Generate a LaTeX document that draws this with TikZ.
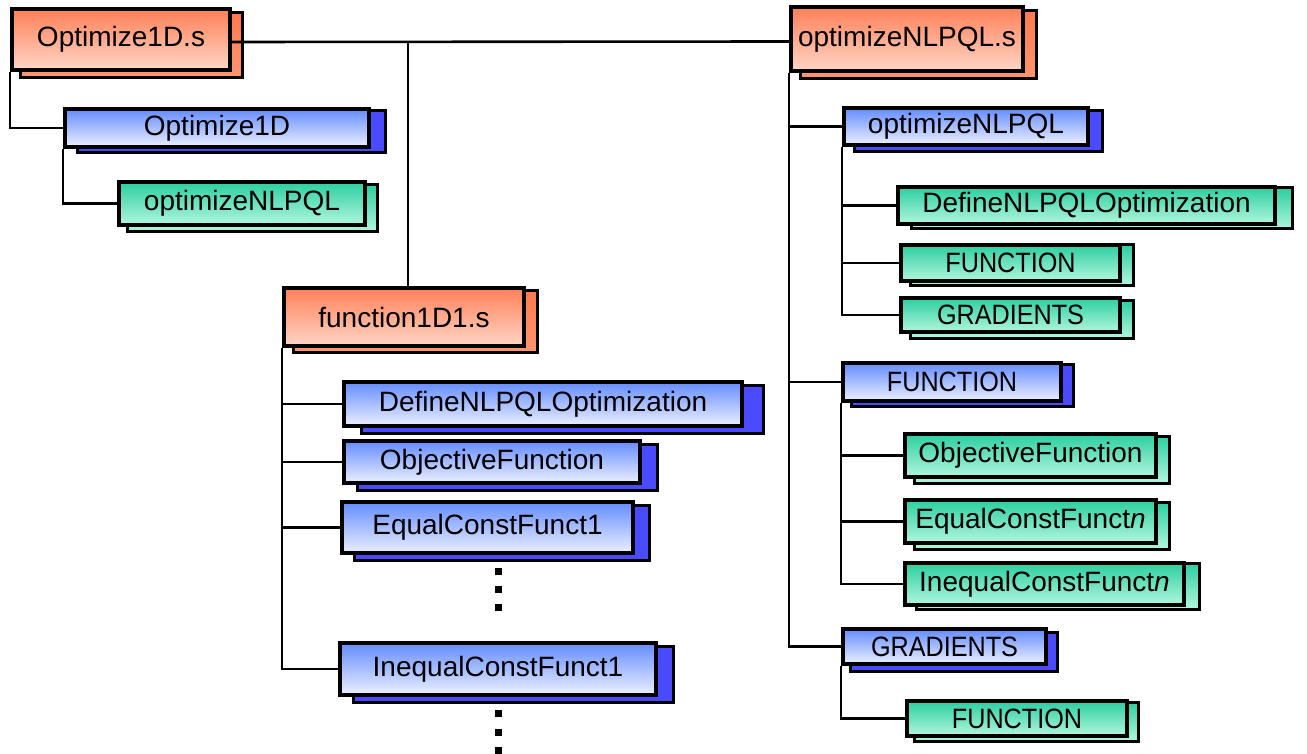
\documentclass[tikz,border=0pt]{standalone}
\usepackage{fontspec}
\setmainfont{Liberation Sans}
\usetikzlibrary{calc}
\definecolor{oTop}{RGB}{255,128,88}
\definecolor{oBot}{RGB}{255,214,198}
\definecolor{oBack}{RGB}{255,122,78}
\definecolor{bTop}{RGB}{100,140,255}
\definecolor{bBot}{RGB}{236,240,255}
\definecolor{bBack}{RGB}{74,74,255}
\definecolor{gTop}{RGB}{44,206,160}
\definecolor{gBot}{RGB}{178,246,222}
\tikzset{
  front/.style={draw=black, line width=3.8pt, inner sep=0pt, font=\fontsize{28}{33}\selectfont, text=black},
  obox/.style={front, top color=oTop, bottom color=oBot},
  obox back/.style={draw=black, line width=3pt, top color=oBack, bottom color=oBack!80!white},
  bbox/.style={front, top color=bTop, bottom color=bBot},
  bbox back/.style={draw=black, line width=3pt, fill=bBack},
  gbox/.style={front, top color=gTop, bottom color=gBot},
  gbox back/.style={draw=black, line width=3pt, top color=gTop, bottom color=gBot},
  conn/.style={draw=black, line width=2.6pt},
  dotsq/.style={fill=black}
}
\newcommand\mybox[9]{%
  \path[#1 back] ({#3+#7},{#4+#8}) rectangle ({#5+#7},{#6+#8});
  \node[#1, minimum width={#5-#3-4}, minimum height={#6-#4-4}] (#2) at ({(#3+#5)/2},{(#4+#6)/2}) {#9};}
\newcommand\sq[1]{\scalebox{0.9}[1]{#1}}
\begin{document}
\begin{tikzpicture}[x=1pt, y=-1pt]
\useasboundingbox (0,0) rectangle (1307,754);
% orange
\mybox{obox}{o1}{10}{7}{232}{72}{10}{6}{Optimize1D.s}
\mybox{obox}{o2}{789}{5}{1025}{73}{11}{6}{optimizeNLPQL.s}
\mybox{obox}{o3}{282}{286}{526}{348}{11}{4}{function1D1.s}
% blue
\mybox{bbox}{b1}{63}{107}{371}{149}{14}{4}{Optimize1D}
\mybox{bbox}{b2}{342}{380}{744}{428}{19}{5}{DefineNLPQLOptimization}
\mybox{bbox}{b3}{342}{439}{642}{485}{15}{5}{ObjectiveFunction}
\mybox{bbox}{b4}{340}{500}{635}{555}{14}{5}{EqualConstFunct1}
\mybox{bbox}{b5}{338}{641}{658}{697}{15}{5}{InequalConstFunct1}
\mybox{bbox}{b6}{842}{106}{1090}{147}{12}{5}{optimizeNLPQL}
\mybox{bbox}{b7}{841}{361}{1063}{403}{10}{3}{\sq{FUNCTION}}
\mybox{bbox}{b8}{841}{627}{1048}{666}{9}{5}{\sq{GRADIENTS}}
% green
\mybox{gbox}{g1}{117}{180}{367}{227}{10}{5}{optimizeNLPQL}
\mybox{gbox}{g2}{896}{185}{1277}{226}{15}{3}{DefineNLPQLOptimization}
\mybox{gbox}{g3}{899}{243}{1122}{283}{11}{2}{\sq{FUNCTION}}
\mybox{gbox}{g4}{899}{296}{1122}{334}{11}{4}{\sq{GRADIENTS}}
\mybox{gbox}{g5}{903}{432}{1158}{479}{11}{4}{ObjectiveFunction}
\mybox{gbox}{g6}{903}{498}{1158}{545}{11}{4}{EqualConstFunct\textit{n}}
\mybox{gbox}{g7}{903}{561}{1186}{607}{13}{2}{InequalConstFunct\textit{n}}
\mybox{gbox}{g8}{905}{699}{1129}{738}{9}{3}{\sq{FUNCTION}}
% connectors
\coordinate (la) at ([yshift=-2.5pt]o1.east);
\coordinate (lb) at ([yshift=-2.5pt]o2.west);
\coordinate (jx) at (408,0);
\coordinate (j) at (la -| jx);
\draw[conn] (la) -- (lb);
\draw[conn] (j) -- (j |- o3.north);
\draw[conn] (o1.south west) |- (b1.west);
\draw[conn] (b1.south west) |- (g1.west);
\draw[conn] (o3.south west) |- (b2.west);
\draw[conn] (o3.south west) |- (b3.west);
\draw[conn] (o3.south west) |- (b4.west);
\draw[conn] (o3.south west) |- (b5.west);
\draw[conn] (o2.south west) |- (b6.west);
\draw[conn] (o2.south west) |- (b7.west);
\draw[conn] (o2.south west) |- (b8.west);
\draw[conn] (b6.south west) |- (g2.west);
\draw[conn] (b6.south west) |- (g3.west);
\draw[conn] (b6.south west) |- (g4.west);
\draw[conn] (b7.south west) |- (g5.west);
\draw[conn] (b7.south west) |- (g6.west);
\draw[conn] (b7.south west) |- (g7.west);
\draw[conn] (b8.south west) |- (g8.west);
% vertical ellipses
\foreach \yy in {571,589,607,713,732,750}
  \fill[dotsq] (494.5,\yy-3.5) rectangle (501.5,\yy+3.5);
\end{tikzpicture}
\end{document}
